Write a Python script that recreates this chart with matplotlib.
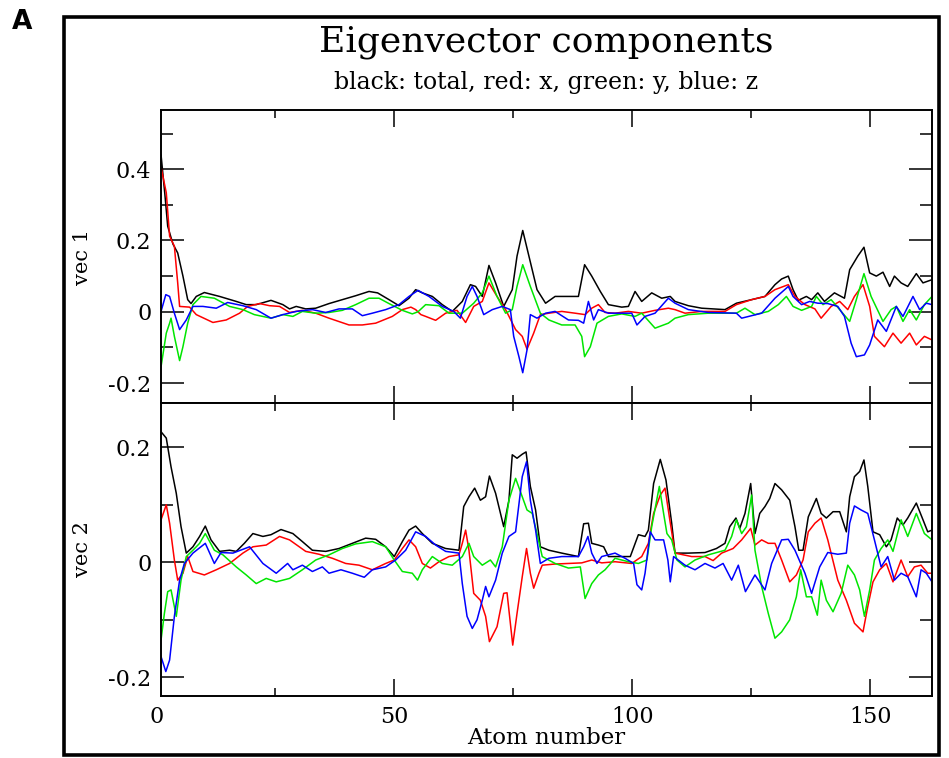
import matplotlib
matplotlib.use("Agg")
import matplotlib.pyplot as plt
from matplotlib.patches import Rectangle
import matplotlib.transforms as mtransforms

# ==============================
# Data: (atom number, component)
# ==============================

atom_ticks = [0, 50, 100, 150]
vec1_ticks = [-0.2, 0, 0.2, 0.4]
vec2_ticks = [-0.2, 0, 0.2]

vec1_total = [(1.0, 0.44), (1.8, 0.33), (2.4, 0.24), (3.5, 0.19), (4.5, 0.165), (5.6, 0.10), (6.6, 0.034),
              (7.3, 0.023), (8.4, 0.043), (10.1, 0.054), (13.3, 0.043), (16.8, 0.029), (18.9, 0.020), (21.0, 0.020),
              (24.1, 0.032), (26.6, 0.020), (28.0, 0.008), (29.4, 0.015), (31.4, 0.008), (33.5, 0.010), (36.3, 0.023),
              (39.1, 0.034), (41.9, 0.045), (44.7, 0.057), (46.5, 0.053), (48.9, 0.034), (51.0, 0.017), (53.1, 0.038),
              (54.5, 0.062), (55.9, 0.053), (58.0, 0.043), (60.1, 0.020), (62.2, 0.001), (64.3, 0.029), (66.0, 0.076),
              (67.1, 0.071), (68.5, 0.043), (69.9, 0.130), (71.3, 0.081), (73.0, 0.015), (74.8, 0.062), (75.8, 0.156),
              (77.0, 0.228), (78.3, 0.156), (80.0, 0.062), (81.8, 0.024), (83.8, 0.043), (86.6, 0.043), (88.7, 0.043),
              (90.0, 0.132), (91.5, 0.100), (93.3, 0.057), (95.0, 0.020), (97.8, 0.013), (99.2, 0.015), (100.6, 0.057),
              (102.0, 0.029), (104.1, 0.053), (106.2, 0.038), (108.0, 0.043), (109.0, 0.029), (111.8, 0.017),
              (114.6, 0.010), (119.5, 0.006), (121.9, 0.024), (125.1, 0.034), (127.9, 0.043), (130.0, 0.076),
              (131.4, 0.092), (132.8, 0.100), (133.8, 0.062), (134.9, 0.032), (136.6, 0.043), (137.7, 0.034),
              (139.0, 0.053), (140.4, 0.029), (142.5, 0.053), (144.6, 0.038), (145.7, 0.118), (147.4, 0.156),
              (148.7, 0.181), (149.9, 0.109), (151.3, 0.100), (152.7, 0.111), (154.1, 0.071), (155.1, 0.100),
              (156.5, 0.081), (157.9, 0.071), (159.7, 0.107), (161.1, 0.081), (163.0, 0.090)]

vec1_x = [(1.0, 0.405), (2.1, 0.334), (2.8, 0.212), (3.8, 0.184), (4.5, 0.081), (4.9, 0.015), (7.0, 0.013),
          (8.4, -0.008), (11.9, -0.030), (14.7, -0.023), (17.5, -0.004), (19.2, 0.015), (21.7, 0.023), (23.8, 0.017),
          (25.9, 0.015), (28.0, -0.002), (30.7, 0.004), (33.5, -0.004), (36.3, -0.018), (40.5, -0.037), (43.3, -0.037),
          (46.1, -0.032), (49.6, -0.013), (51.7, 0.006), (53.5, 0.013), (54.5, 0.006), (55.6, -0.008), (56.6, -0.013),
          (58.7, -0.024), (60.8, -0.004), (63.2, 0.004), (65.0, -0.030), (66.7, 0.015), (68.5, 0.029), (69.9, 0.081),
          (71.6, 0.043), (73.4, 0.006), (75.5, -0.050), (76.9, -0.069), (77.9, -0.105), (79.3, -0.060), (80.7, -0.008),
          (82.5, -0.004), (85.2, 0.001), (88.0, -0.004), (90.1, -0.008), (91.5, 0.010), (92.9, 0.020), (94.3, -0.002),
          (96.4, -0.004), (99.2, 0.001), (102.0, -0.004), (104.8, 0.004), (107.6, 0.010), (109.0, 0.006),
          (111.1, -0.004), (114.6, 0.001), (119.5, 0.001), (121.9, 0.020), (125.1, 0.034), (127.9, 0.043),
          (130.0, 0.062), (132.8, 0.076), (134.2, 0.043), (136.3, 0.020), (138.4, 0.008), (139.7, -0.018),
          (141.8, 0.015), (143.6, 0.029), (145.3, 0.006), (146.7, 0.043), (148.5, 0.076), (149.9, 0.015),
          (150.9, -0.069), (153.0, -0.098), (154.8, -0.060), (156.5, -0.088), (158.3, -0.060), (159.7, -0.093),
          (161.4, -0.069), (163.0, -0.079)]

vec1_y = [(1.0, -0.154), (2.1, -0.060), (2.8, -0.032), (3.1, -0.018), (3.8, -0.069), (4.9, -0.137), (5.6, -0.098),
          (6.6, -0.032), (7.7, 0.020), (9.4, 0.043), (12.2, 0.038), (15.4, 0.015), (18.2, 0.006), (20.6, -0.008),
          (24.1, -0.018), (26.6, -0.008), (28.7, -0.013), (30.7, 0.001), (33.5, -0.004), (36.3, -0.002), (39.1, 0.004),
          (41.9, 0.020), (44.7, 0.038), (46.8, 0.038), (48.9, 0.023), (51.7, 0.004), (53.8, -0.006), (55.0, 0.000),
          (56.6, 0.020), (59.4, 0.017), (61.5, -0.004), (64.3, -0.004), (66.7, 0.024), (68.5, 0.053), (69.9, 0.100),
          (71.6, 0.043), (73.4, -0.004), (74.8, 0.006), (75.8, 0.071), (77.0, 0.132), (78.6, 0.071), (80.7, -0.004),
          (82.5, -0.023), (85.2, -0.037), (88.0, -0.037), (89.4, -0.069), (90.0, -0.126), (91.2, -0.098),
          (92.6, -0.032), (95.0, -0.013), (97.8, -0.006), (100.6, -0.013), (102.0, -0.004), (104.8, -0.046),
          (107.6, -0.032), (109.0, -0.018), (111.8, -0.008), (116.0, -0.004), (121.9, -0.004), (123.7, 0.010),
          (125.8, -0.008), (128.6, 0.001), (130.7, 0.020), (132.4, 0.043), (133.8, 0.015), (135.6, 0.004),
          (137.7, 0.015), (138.7, 0.043), (140.1, 0.020), (141.8, 0.034), (143.6, 0.006), (145.7, -0.027),
          (147.1, 0.034), (148.7, 0.107), (150.2, 0.043), (152.7, -0.027), (154.4, 0.006), (155.5, 0.015),
          (156.9, -0.027), (158.3, 0.006), (159.7, -0.023), (161.4, 0.020), (163.0, 0.043)]

vec1_z = [(1.0, 0.001), (2.0, 0.048), (2.8, 0.043), (3.8, -0.004), (4.9, -0.050), (6.3, -0.023), (7.7, 0.015),
          (9.8, 0.015), (12.6, 0.010), (15.0, 0.026), (18.2, 0.017), (21.0, 0.006), (24.1, -0.018), (26.6, -0.008),
          (29.4, 0.001), (32.8, 0.006), (35.6, -0.002), (38.4, 0.008), (41.2, 0.008), (43.3, -0.011), (45.4, -0.004),
          (48.2, 0.006), (51.0, 0.020), (53.1, 0.043), (55.0, 0.060), (57.3, 0.043), (60.1, 0.015), (62.5, 0.001),
          (63.9, -0.018), (65.3, 0.043), (66.4, 0.071), (67.4, 0.043), (68.8, -0.008), (70.6, 0.006), (72.7, 0.015),
          (74.4, 0.006), (75.1, -0.069), (76.2, -0.126), (77.0, -0.171), (77.9, -0.107), (78.6, -0.008),
          (80.0, -0.018), (81.8, -0.004), (83.8, 0.001), (86.6, -0.023), (88.7, -0.024), (89.8, -0.032), (90.8, 0.029),
          (91.9, -0.023), (92.9, 0.006), (95.0, -0.004), (97.8, -0.004), (99.9, -0.004), (101.0, -0.037),
          (102.7, -0.013), (104.8, -0.004), (107.6, 0.038), (109.0, 0.024), (111.8, 0.006), (116.0, -0.002),
          (121.9, -0.004), (123.0, -0.018), (125.1, -0.011), (127.2, -0.004), (130.0, 0.038), (132.8, 0.071),
          (133.8, 0.043), (135.6, 0.020), (137.3, 0.029), (139.0, 0.024), (141.1, 0.023), (143.2, 0.015),
          (144.6, -0.013), (146.0, -0.088), (147.1, -0.126), (148.8, -0.121), (149.9, -0.093), (151.6, -0.023),
          (153.4, -0.055), (155.5, 0.015), (156.9, -0.013), (159.0, 0.043), (160.4, 0.006), (161.8, 0.024),
          (163.0, 0.020)]

vec2_total = [(1.0, 0.227), (2.1, 0.216), (3.1, 0.166), (4.2, 0.120), (5.2, 0.062), (6.3, 0.016), (7.7, 0.027),
              (9.1, 0.045), (10.3, 0.063), (11.5, 0.039), (13.3, 0.019), (15.4, 0.021), (16.8, 0.019), (18.5, 0.033),
              (20.3, 0.050), (22.4, 0.045), (24.1, 0.048), (26.2, 0.057), (28.7, 0.050), (30.7, 0.036), (32.8, 0.021),
              (35.6, 0.019), (38.4, 0.024), (41.2, 0.033), (44.0, 0.042), (46.1, 0.040), (48.2, 0.027), (50.0, 0.010),
              (51.7, 0.036), (53.1, 0.056), (54.5, 0.063), (55.9, 0.050), (58.0, 0.033), (60.8, 0.024), (63.6, 0.021),
              (64.6, 0.097), (65.7, 0.114), (66.9, 0.129), (68.1, 0.108), (69.2, 0.114), (70.0, 0.150), (71.3, 0.120),
              (73.0, 0.062), (74.1, 0.108), (74.8, 0.187), (75.8, 0.181), (76.9, 0.188), (77.7, 0.192), (78.6, 0.132),
              (79.7, 0.091), (80.7, 0.027), (82.5, 0.021), (85.2, 0.016), (88.7, 0.010), (89.8, 0.067), (90.8, 0.068),
              (91.5, 0.033), (92.9, 0.030), (94.0, 0.027), (95.0, 0.010), (97.8, 0.010), (99.6, 0.010), (101.3, 0.048),
              (102.7, 0.045), (103.4, 0.056), (104.5, 0.137), (105.9, 0.179), (107.1, 0.143), (108.3, 0.068),
              (109.0, 0.016), (111.8, 0.016), (115.3, 0.017), (117.7, 0.024), (119.5, 0.033), (120.5, 0.062),
              (121.8, 0.077), (122.6, 0.059), (123.7, 0.085), (124.9, 0.137), (125.8, 0.050), (126.8, 0.085),
              (127.9, 0.097), (128.9, 0.111), (130.0, 0.137), (131.4, 0.126), (133.1, 0.108), (134.2, 0.062),
              (135.0, 0.021), (135.9, 0.021), (137.0, 0.079), (138.7, 0.111), (139.7, 0.085), (140.8, 0.077),
              (142.2, 0.088), (143.6, 0.088), (145.0, 0.053), (145.7, 0.114), (146.7, 0.149), (147.8, 0.158),
              (148.7, 0.178), (149.5, 0.132), (150.6, 0.053), (152.0, 0.048), (153.4, 0.027), (154.4, 0.039),
              (155.7, 0.077), (156.9, 0.065), (157.9, 0.077), (159.7, 0.103), (161.1, 0.074), (162.1, 0.053),
              (163.0, 0.056)]

vec2_x = [(1.0, 0.074), (2.1, 0.100), (2.8, 0.068), (3.8, 0.004), (4.5, -0.031), (5.6, -0.019), (6.6, 0.010),
          (7.7, -0.016), (10.1, -0.022), (12.6, -0.013), (15.4, -0.002), (18.2, 0.016), (20.3, 0.027), (23.1, 0.030),
          (25.9, 0.045), (28.0, 0.039), (31.4, 0.019), (34.2, 0.014), (37.0, 0.007), (39.8, -0.002), (42.6, -0.005),
          (45.4, -0.013), (48.2, -0.002), (50.0, 0.004), (51.7, 0.024), (53.1, 0.039), (54.5, 0.027), (55.9, -0.002),
          (57.6, -0.010), (59.4, 0.001), (61.5, 0.010), (63.6, 0.013), (64.3, 0.033), (65.0, 0.056), (65.7, 0.021),
          (66.7, -0.054), (68.1, -0.066), (69.2, -0.094), (70.0, -0.138), (71.6, -0.112), (73.0, -0.054),
          (73.7, -0.053), (74.9, -0.144), (75.8, -0.089), (76.9, -0.025), (77.8, 0.024), (78.6, -0.019),
          (79.3, -0.045), (80.4, -0.019), (81.1, -0.005), (83.8, -0.003), (86.6, -0.002), (89.4, -0.001),
          (91.5, 0.004), (93.6, -0.001), (96.4, 0.001), (99.9, -0.002), (102.0, 0.010), (103.4, 0.033),
          (104.5, 0.085), (105.9, 0.117), (106.9, 0.129), (107.9, 0.074), (109.0, 0.016), (112.5, 0.010),
          (115.3, 0.010), (117.0, 0.003), (118.8, 0.016), (121.2, 0.024), (123.0, 0.039), (124.9, 0.059),
          (125.8, 0.030), (127.2, 0.039), (128.6, 0.033), (130.0, 0.033), (131.4, 0.004), (133.1, -0.034),
          (134.5, -0.022), (135.9, 0.004), (137.0, 0.053), (138.4, 0.068), (139.7, 0.077), (141.1, 0.039),
          (143.2, -0.031), (145.0, -0.066), (146.7, -0.106), (148.5, -0.121), (149.5, -0.077), (150.6, -0.034),
          (152.0, -0.013), (153.4, -0.002), (154.8, -0.034), (156.5, 0.004), (157.9, -0.025), (159.3, -0.008),
          (160.7, -0.005), (162.1, -0.019), (163.0, -0.019)]

vec2_y = [(1.0, -0.135), (1.7, -0.089), (2.4, -0.051), (3.1, -0.048), (4.2, -0.094), (5.2, -0.031), (6.3, 0.010),
          (7.7, 0.021), (9.1, 0.033), (10.3, 0.050), (12.2, 0.021), (14.0, 0.013), (16.8, -0.008), (18.9, -0.022),
          (21.0, -0.037), (23.1, -0.028), (25.2, -0.034), (28.0, -0.028), (30.7, -0.013), (33.5, 0.004), (36.3, 0.013),
          (39.1, 0.024), (41.9, 0.032), (45.4, 0.036), (48.2, 0.027), (50.0, 0.004), (51.7, -0.016), (53.8, -0.019),
          (54.9, -0.031), (55.9, -0.013), (58.0, 0.010), (60.1, -0.002), (62.2, -0.005), (64.3, 0.010), (65.7, 0.033),
          (66.7, 0.010), (68.5, -0.005), (70.2, 0.004), (71.3, -0.008), (72.7, 0.027), (74.1, 0.108), (75.5, 0.146),
          (76.9, 0.114), (77.9, 0.091), (79.0, 0.085), (80.0, 0.050), (81.1, 0.010), (83.8, -0.002), (86.6, -0.010),
          (89.1, -0.008), (90.1, -0.063), (91.5, -0.037), (92.9, -0.022), (94.3, -0.013), (96.4, 0.007),
          (99.2, 0.001), (101.3, -0.002), (103.1, 0.004), (104.1, 0.062), (105.7, 0.132), (106.6, 0.085),
          (107.3, 0.050), (108.3, 0.039), (109.4, 0.004), (111.1, -0.008), (113.2, 0.004), (116.0, 0.013),
          (119.5, 0.021), (120.9, 0.045), (121.9, 0.074), (123.0, 0.050), (124.0, 0.062), (125.1, 0.117),
          (125.8, 0.021), (127.2, -0.042), (128.6, -0.089), (130.0, -0.132), (131.4, -0.121), (133.1, -0.100),
          (134.5, -0.060), (135.4, -0.013), (136.6, -0.060), (137.7, -0.060), (138.9, -0.092), (139.7, -0.031),
          (140.8, -0.066), (142.2, -0.086), (143.9, -0.054), (145.3, -0.005), (146.7, -0.022), (147.8, -0.048),
          (148.8, -0.094), (149.9, -0.048), (150.9, 0.004), (152.3, 0.024), (153.7, 0.039), (154.8, 0.019),
          (156.5, 0.074), (157.9, 0.045), (159.7, 0.085), (161.4, 0.050), (163.0, 0.039)]

vec2_z = [(1.0, -0.164), (2.0, -0.190), (2.8, -0.170), (3.8, -0.094), (4.9, -0.031), (5.9, -0.002), (7.7, 0.016),
          (10.3, 0.033), (12.2, -0.002), (13.6, 0.017), (16.1, 0.016), (19.6, 0.027), (22.4, -0.002), (25.2, -0.019),
          (27.6, -0.002), (28.7, -0.013), (30.7, -0.005), (32.8, -0.016), (34.9, -0.008), (36.3, -0.019),
          (38.8, -0.013), (41.2, -0.019), (43.7, -0.026), (45.4, -0.013), (48.2, -0.008), (50.3, 0.004), (52.4, 0.021),
          (54.5, 0.053), (56.6, 0.045), (58.7, 0.030), (60.8, 0.019), (63.6, 0.016), (64.3, -0.037), (65.3, -0.094),
          (66.4, -0.115), (67.4, -0.100), (68.5, -0.066), (69.2, -0.042), (69.9, -0.060), (71.3, -0.031),
          (72.7, 0.016), (74.1, 0.045), (75.5, 0.053), (76.9, 0.149), (77.8, 0.175), (78.6, 0.108), (79.7, 0.056),
          (80.7, -0.002), (82.5, 0.007), (85.2, 0.010), (88.7, 0.010), (89.8, 0.027), (90.7, 0.045), (91.5, 0.016),
          (92.6, -0.002), (93.6, 0.010), (95.0, 0.013), (96.4, 0.016), (98.5, 0.007), (100.3, -0.002),
          (101.0, -0.039), (102.0, -0.048), (102.7, -0.019), (103.8, 0.053), (104.8, 0.039), (106.6, 0.039),
          (107.5, 0.004), (108.0, -0.034), (108.7, 0.010), (111.1, -0.005), (113.2, -0.013), (115.3, -0.002),
          (117.4, -0.010), (119.1, -0.002), (120.9, -0.031), (122.3, -0.005), (123.8, -0.051), (125.8, -0.022),
          (127.9, -0.048), (129.3, -0.002), (131.4, 0.039), (132.8, 0.040), (134.2, 0.021), (136.3, -0.019),
          (137.7, -0.054), (139.4, -0.008), (141.1, 0.017), (143.2, 0.014), (145.0, 0.016), (145.7, 0.068),
          (146.7, 0.098), (148.1, 0.091), (149.5, 0.085), (150.9, 0.039), (152.3, -0.008), (153.7, 0.010),
          (155.1, -0.031), (156.5, -0.019), (157.9, -0.025), (159.7, -0.060), (160.7, -0.013), (161.8, -0.019),
          (163.0, -0.034)]

# ==============================
# Styling
# ==============================

plt.rcParams.update({
    "font.family": ["DejaVu Serif"],
    "axes.unicode_minus": False,
    "axes.linewidth": 1.4,
})

COLORS = {"total": "black", "x": "#ff0000", "y": "#00e600", "z": "#0000ff"}
X_MIN, X_MAX = 1, 163

fig = plt.figure(figsize=(9.49, 7.58), dpi=100)
ax1 = fig.add_axes([0.1697, 0.4683, 0.8124, 0.3866])
ax2 = fig.add_axes([0.1697, 0.0818, 0.8124, 0.3865])

# the 0 tick lies left of the first atom, so it is labelled by hand below
shown_ticks = [t for t in atom_ticks if t >= X_MIN]


def draw_panel(ax, series, ylim, yticks, yminor, label):
    for key, pts in series:
        xs = [p[0] for p in pts]
        ys = [p[1] for p in pts]
        ax.plot(xs, ys, color=COLORS[key], lw=1.1)
    ax.set_xlim(X_MIN, X_MAX)
    ax.set_ylim(*ylim)
    ax.set_xticks(shown_ticks)
    ax.set_xticks([25, 75, 125], minor=True)
    ax.set_yticks(yticks)
    ax.set_yticks(yminor, minor=True)
    ax.set_yticklabels(["%g" % t for t in yticks])
    ax.tick_params(which="both", direction="in", top=True, right=True, width=1.1,
                   labelsize=16, pad=7)
    ax.tick_params(axis="x", which="major", length=12)
    ax.tick_params(axis="x", which="minor", length=5.8)
    ax.tick_params(axis="y", which="major", length=16.5)
    ax.tick_params(axis="y", which="minor", length=8.6)
    ax.set_ylabel(label, fontsize=15)
    ax.yaxis.set_label_coords(-0.09, 0.5)


draw_panel(ax1, [("total", vec1_total), ("x", vec1_x), ("y", vec1_y), ("z", vec1_z)],
           (-0.256, 0.566), vec1_ticks, [-0.1, 0.1, 0.3, 0.5], "vec 1")
draw_panel(ax2, [("total", vec2_total), ("x", vec2_x), ("y", vec2_y), ("z", vec2_z)],
           (-0.2325, 0.277), vec2_ticks, [-0.1, 0.1], "vec 2")

ax1.tick_params(axis="x", labelbottom=False)
ax2.set_xticklabels([str(t) for t in shown_ticks])

trans = mtransforms.blended_transform_factory(ax2.transData, ax2.transAxes)
ax2.text(atom_ticks[0], -0.035, str(atom_ticks[0]), transform=trans, ha="center", va="top",
         fontsize=16, clip_on=False)

ax2.set_xlabel("Atom number", fontsize=16.5)
ax2.xaxis.set_label_coords(0.5, -0.105)

fig.text(0.5759, 1 - 42 / 758, "Eigenvector components", ha="center", va="center", fontsize=26)
fig.text(0.5759, 1 - 82 / 758, "black: total, red: x, green: y, blue: z", ha="center", va="center",
         fontsize=17)
fig.text(22 / 949, 1 - 22 / 758, "A", ha="center", va="center", fontsize=19, fontweight="bold",
         family="DejaVu Sans")

fig.patches.append(Rectangle((64 / 949, 1 - 755 / 758), (939 - 64) / 949, (755 - 17) / 758,
                             transform=fig.transFigure, fill=False, lw=2.6, ec="black"))

fig.savefig("out.png", dpi=100)
